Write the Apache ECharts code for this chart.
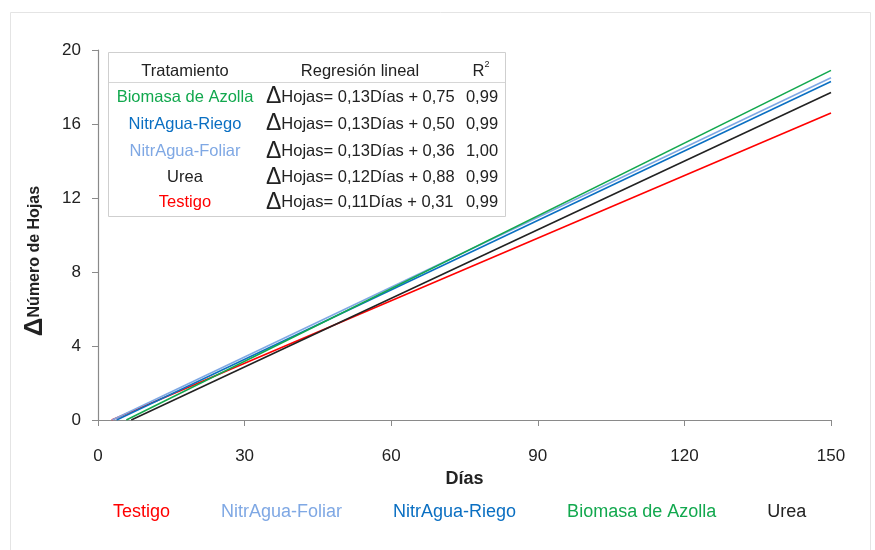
<!DOCTYPE html>
<html>
<head>
<meta charset="utf-8">
<script src="https://cdn.jsdelivr.net/npm/echarts@6/dist/echarts.min.js"></script>
<style>
  html, body { margin: 0; padding: 0; background: #fff; }
  #chart { width: 875px; height: 550px; }
</style>
</head>
<body>
<div id="chart"></div>
<script>
// series (legend order)
const seriesNames = ['Testigo', 'NitrAgua-Foliar', 'NitrAgua-Riego', 'Biomasa de Azolla', 'Urea']
const seriesColors = ['#ff0000', '#7fa8e4', '#0a6fc2', '#12a84e', '#222222']
// fitted lines: day where the line leaves 0, value at day 150
const startDays = [2.8, 2.9, 3.8, 5.8, 6.8]
const endDay = 150
const endValues = [16.6, 18.5, 18.3, 18.9, 17.7]

// inset table
const tableHeader = ['Tratamiento', 'Regresión lineal', 'R']
const tableNames = ['Biomasa de Azolla', 'NitrAgua-Riego', 'NitrAgua-Foliar', 'Urea', 'Testigo']
const tableEquations = [
  'Hojas= 0,13Días + 0,75',
  'Hojas= 0,13Días + 0,50',
  'Hojas= 0,13Días + 0,36',
  'Hojas= 0,12Días + 0,88',
  'Hojas= 0,11Días + 0,31'
]
const tableR2 = ['0,99', '0,99', '1,00', '0,99', '0,99']

const font = "'Liberation Sans', Arial, sans-serif"
const textColor = '#222'
const tableFont = 16.5

const chart = echarts.init(document.getElementById('chart'))

const colorOf = name => seriesColors[seriesNames.indexOf(name)]

// table graphic
const rowY = [97, 124, 151.5, 177.5, 202.5]
const tableGraphic = [
  {
    type: 'rect',
    shape: { x: 108.5, y: 52.5, width: 397, height: 164 },
    style: { fill: '#fff', stroke: '#cfcfcf', lineWidth: 1 },
    z: 10
  },
  {
    type: 'line',
    shape: { x1: 109, y1: 82.5, x2: 505, y2: 82.5 },
    style: { stroke: '#d6d6d6', lineWidth: 1 },
    z: 11
  },
  {
    type: 'text', x: 185, y: 71, z: 11,
    style: { text: tableHeader[0], fill: textColor, fontSize: tableFont, fontFamily: font, align: 'center', verticalAlign: 'middle' }
  },
  {
    type: 'text', x: 360, y: 71, z: 11,
    style: { text: tableHeader[1], fill: textColor, fontSize: tableFont, fontFamily: font, align: 'center', verticalAlign: 'middle' }
  },
  {
    type: 'text', x: 481, y: 71, z: 11,
    style: {
      text: tableHeader[2] + '{s|2}',
      fill: textColor, fontSize: tableFont, fontFamily: font, align: 'center', verticalAlign: 'middle',
      rich: { s: { fontSize: 9, verticalAlign: 'top', padding: [0, 0, 12, 0], fill: textColor, fontFamily: font } }
    }
  }
]
tableNames.forEach((name, i) => {
  tableGraphic.push({
    type: 'text', x: 185, y: rowY[i], z: 11,
    style: { text: name, fill: colorOf(name), fontSize: tableFont, fontFamily: font, align: 'center', verticalAlign: 'middle' }
  })
  tableGraphic.push({
    type: 'text', x: 266, y: rowY[i], z: 11,
    style: {
      text: '{d|Δ}' + tableEquations[i],
      fill: textColor, fontSize: tableFont, fontFamily: font, align: 'left', verticalAlign: 'middle',
      rich: { d: { fontSize: 23, fill: textColor, fontFamily: font } }
    }
  })
  tableGraphic.push({
    type: 'text', x: 482, y: rowY[i], z: 11,
    style: { text: tableR2[i], fill: textColor, fontSize: tableFont, fontFamily: font, align: 'center', verticalAlign: 'middle' }
  })
})

// y axis title, placed by hand so it sits like the original
const yTitle = {
  type: 'text', x: 35, y: 261, rotation: Math.PI / 2, z: 11,
  style: {
    text: '{d|Δ}Número de Hojas',
    fill: textColor, fontSize: 16, fontWeight: 'bold', fontFamily: font, align: 'center', verticalAlign: 'middle',
    rich: { d: { fontSize: 26, fontWeight: 'bold', fill: textColor, fontFamily: font } }
  }
}

const option = {
  animation: false,
  backgroundColor: '#fff',
  textStyle: { fontFamily: font },
  grid: { left: 98, right: 44, top: 50, bottom: 130 },
  legend: {
    bottom: 24,
    left: 108,
    itemGap: 51,
    itemWidth: 0,
    itemHeight: 0,
    icon: 'rect',
    textStyle: { fontSize: 18, fontFamily: font, padding: [0, 0, 0, -5] },
    data: seriesNames.map((name, i) => ({ name, textStyle: { color: seriesColors[i] } }))
  },
  xAxis: {
    type: 'value',
    min: 0,
    max: 150,
    interval: 30,
    name: 'Días',
    nameLocation: 'middle',
    nameGap: 49,
    nameTextStyle: { fontSize: 18, fontWeight: 'bold', color: textColor, fontFamily: font },
    axisLine: { show: true, lineStyle: { color: '#8a8a8a', width: 1.2 } },
    axisTick: { show: true, length: 6, lineStyle: { color: '#8a8a8a' } },
    axisLabel: { fontSize: 17, color: textColor, margin: 28, fontFamily: font },
    splitLine: { show: false }
  },
  yAxis: {
    type: 'value',
    min: 0,
    max: 20,
    interval: 4,
    axisLine: { show: true, lineStyle: { color: '#8a8a8a', width: 1.2 } },
    axisTick: { show: true, length: 6, inside: false, lineStyle: { color: '#8a8a8a' } },
    axisLabel: { fontSize: 17, color: textColor, margin: 17, fontFamily: font },
    splitLine: { show: false }
  },
  graphic: [
    {
      type: 'rect',
      shape: { x: 10.5, y: 12.5, width: 860, height: 560 },
      style: { fill: 'none', stroke: '#e4e4e4', lineWidth: 1 },
      z: -1
    },
    yTitle
  ].concat(tableGraphic),
  series: seriesNames.map((name, i) => ({
    name,
    type: 'line',
    data: [[startDays[i], 0], [endDay, endValues[i]]],
    symbol: 'none',
    lineStyle: { color: seriesColors[i], width: 1.6 },
    itemStyle: { color: seriesColors[i] }
  }))
}

chart.setOption(option)
</script>
</body>
</html>
